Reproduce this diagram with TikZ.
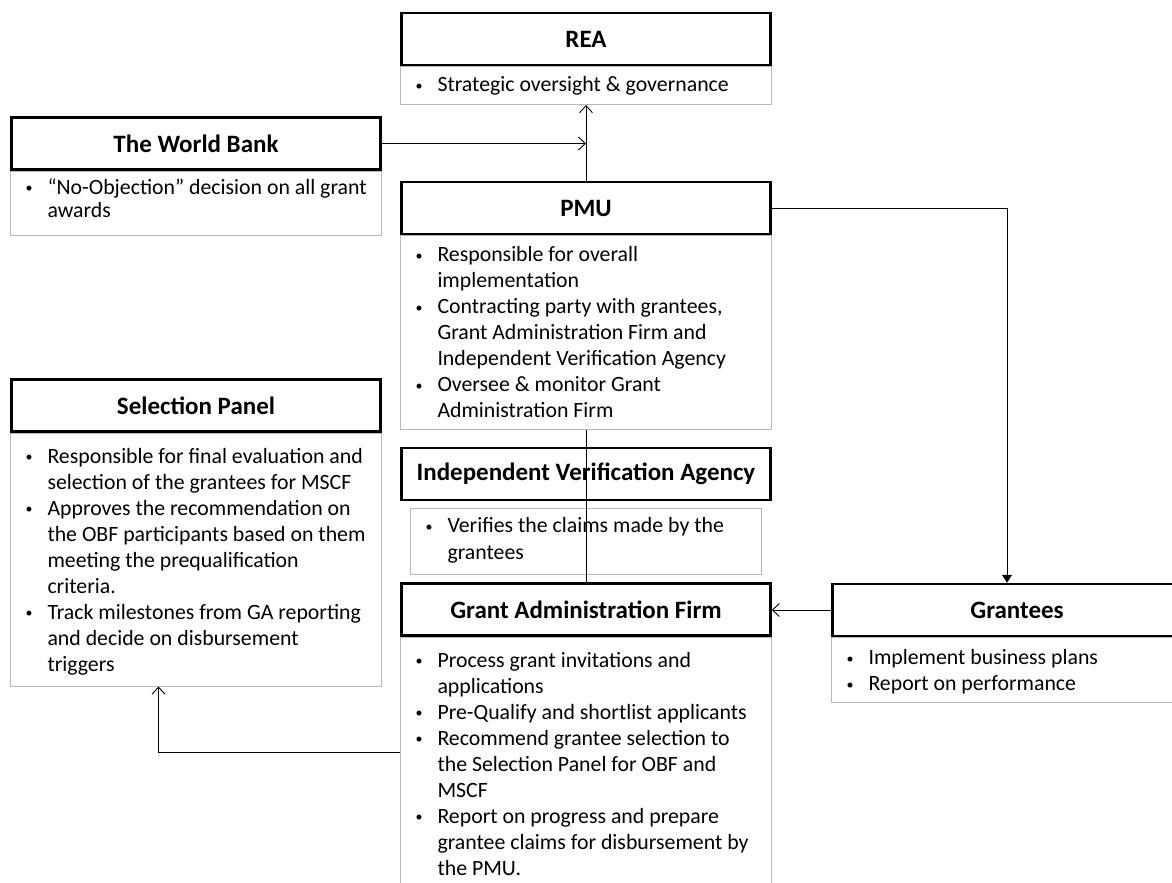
\documentclass[tikz,border=0pt]{standalone}
\usepackage{fontspec}
\setmainfont{Carlito}
\usetikzlibrary{arrows.meta,positioning}
\newcommand{\bitem}{\par\hangindent=24pt\hangafter=1\noindent
  \makebox[24pt][l]{\hspace{2pt}\raisebox{1.5pt}{\fontsize{14pt}{14pt}\selectfont\textbullet}}\strut}
\newcommand{\boxtext}[4][345pt]{\parbox[t][#3][t]{#1}{\raggedright\vspace*{#2}#4}}
\begin{document}
\begin{tikzpicture}[x=1pt,y=-1pt,
    title/.style={draw, line width=2.5pt, minimum width=369pt, minimum height=52pt,
      font=\bfseries\fontsize{25pt}{28pt}\selectfont},
    desc/.style={draw=gray!55, line width=0.8pt, inner xsep=13pt, inner ysep=0pt,
      font=\fontsize{21.8pt}{26pt}\selectfont},
    open/.style={-{Straight Barb[length=7pt,width=13pt]}, line width=0.9pt},
    filled/.style={-{Triangle[length=8pt,width=10pt]}, line width=0.9pt}]
  \useasboundingbox (0,0) rectangle (1172,883);
  % boxes
  \node[title] (rea) at (586,39) {REA};
  \node[desc, below=0pt of rea] (readesc) {\boxtext{7pt}{38pt}{\bitem Strategic oversight \& governance}};
  \node[title] (wb) at (196,143.5) {The World Bank};
  \node[desc, below=0pt of wb] (wbdesc) {\boxtext{5pt}{64pt}{\baselineskip=23.5pt
    \bitem “No-Objection” decision on all grant\newline awards}};
  \node[title] (pmu) at (586,208) {PMU};
  \node[desc, below=0pt of pmu] (pmudesc) {\boxtext{8pt}{194pt}{%
    \bitem Responsible for overall\newline implementation
    \bitem Contracting party with grantees,\newline Grant Administration Firm and\newline Independent Verification Agency
    \bitem Oversee \& monitor Grant\newline Administration Firm}};
  \node[title] (sel) at (196,405.5) {Selection Panel};
  \node[desc, below=0pt of sel] (seldesc) {\boxtext{12pt}{253pt}{%
    \bitem Responsible for final evaluation and\newline selection of the grantees for MSCF
    \bitem Approves the recommendation on\newline the OBF participants based on them\newline meeting the prequalification\newline criteria.
    \bitem Track milestones from GA reporting\newline and decide on disbursement\newline triggers}};
  \node[title] (iva) at (586,474) {Independent Verification Agency};
  \node[desc, below=7pt of iva] (ivadesc) {\boxtext[325pt]{6pt}{66pt}{\baselineskip=27pt
    \bitem Verifies the claims made by the\newline grantees}};
  \node[title] (gaf) at (586,609.5) {Grant Administration Firm};
  \node[desc, below=0pt of gaf] (gafdesc) {\boxtext{12pt}{263pt}{%
    \bitem Process grant invitations and\newline applications
    \bitem Pre-Qualify and shortlist applicants
    \bitem Recommend grantee selection to\newline the Selection Panel for OBF and\newline MSCF
    \bitem Report on progress and prepare\newline grantee claims for disbursement by\newline the PMU.}};
  \node[title] (gra) at (1017,610) {Grantees};
  \node[desc, below=0pt of gra] (gradesc) {\boxtext{9pt}{65pt}{%
    \bitem Implement business plans
    \bitem Report on performance}};
  % connectors
  \draw[open] (pmu.north) -- (readesc.south);
  \draw[open] (wb.east) -- (wb.east -| readesc.south);
  \draw[filled] (pmu.east) -| ([xshift=-10pt]gra.north);
  \draw[line width=0.9pt] (pmudesc.south) -- (gaf.north);
  \draw[open] (gra.west) -- (gra.west -| gaf.east);
  \draw[open] ([yshift=16pt]gafdesc.west) -| ([xshift=-37.5pt]seldesc.south);
\end{tikzpicture}
\end{document}
